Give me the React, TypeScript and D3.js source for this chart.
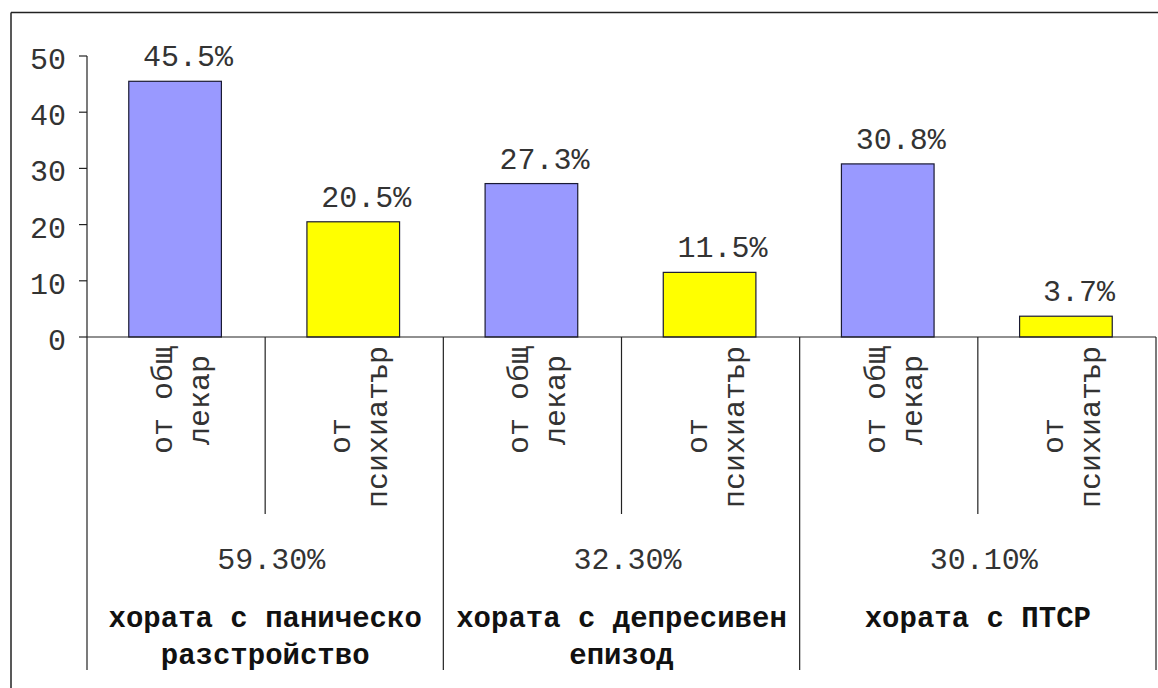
import React from "react";
import * as d3 from "d3";

const groupNames: string[][] = [
  ["хората с паническо", "разстройство"],
  ["хората с депресивен", "епизод"],
  ["хората с ПТСР"],
];
const groupTotals = ["59.30%", "32.30%", "30.10%"];
const sourceLabels: string[][] = [
  ["от общ", "лекар"],
  ["от ", "психиатър"],
];
const generalPractitioner = [45.5, 27.3, 30.8];
const psychiatrist = [20.5, 11.5, 3.7];
const yTicks = [0, 10, 20, 30, 40, 50];

const W = 1158;
const H = 688;
const FONT = "'Liberation Mono', 'Courier New', monospace";
const FS = 30;
const ADV = FS * 0.6;

export default function App() {
  const cats: { g: number; s: number; v: number }[] = [];
  groupNames.forEach((_, g) => {
    cats.push({ g, s: 0, v: generalPractitioner[g] });
    cats.push({ g, s: 1, v: psychiatrist[g] });
  });
  const x = d3
    .scaleBand<number>()
    .domain(cats.map((_, i) => i))
    .range([87, 1156])
    .padding(0);
  const y = d3.scaleLinear().domain([0, 50]).range([337, 56]);
  const barW = x.bandwidth() * 0.52;
  const y0 = y(0);
  const lineColor = "#222";
  const textColor = "#333";

  return (
    <svg
      width={W}
      height={H}
      style={{ position: "absolute", left: 0, top: 0, background: "#fff" }}
    >
      <rect x={0} y={0} width={W} height={H} fill="#fff" />
      {/* outer frame */}
      <line x1={11} y1={12.5} x2={W} y2={12.5} stroke={lineColor} strokeWidth={1.5} />
      <line x1={11} y1={12.5} x2={11} y2={H} stroke={lineColor} strokeWidth={1.5} />

      {/* y axis */}
      <line x1={87} y1={y(50)} x2={87} y2={670} stroke={lineColor} strokeWidth={1.2} />
      {yTicks.map((t) => (
        <g key={t}>
          <line x1={79} y1={y(t)} x2={87} y2={y(t)} stroke={lineColor} strokeWidth={1.2} />
          <text
            x={66}
            y={y(t) + 13}
            textAnchor="end"
            fontFamily={FONT}
            fontSize={FS}
            fill={textColor}
          >
            {t}
          </text>
        </g>
      ))}

      {/* bars */}
      {cats.map((c, i) => {
        const cx = (x(i) as number) + x.bandwidth() / 2;
        return (
          <g key={i}>
            <rect
              x={cx - barW / 2 - 1}
              y={y(c.v)}
              width={barW}
              height={y0 - y(c.v)}
              fill={c.s === 0 ? "#9999FF" : "#FFFF00"}
              stroke="#1a1a33"
              strokeWidth={1.2}
            />
            <text
              x={cx + 12}
              y={y(c.v) - 15}
              textAnchor="middle"
              fontFamily={FONT}
              fontSize={FS}
              fill={textColor}
            >
              {c.v.toFixed(1) + "%"}
            </text>
          </g>
        );
      })}

      {/* x axis */}
      <line x1={87} y1={y0} x2={1156} y2={y0} stroke={lineColor} strokeWidth={1.2} />
      {cats.map((c, i) => {
        const right = (x(i) as number) + x.bandwidth();
        const isGroupEnd = c.s === 1;
        return (
          <line
            key={"sep" + i}
            x1={right}
            y1={y0}
            x2={right}
            y2={isGroupEnd ? 670 : 514}
            stroke={lineColor}
            strokeWidth={1.2}
          />
        );
      })}

      {/* rotated category labels */}
      {cats.map((c, i) => {
        const cx = (x(i) as number) + x.bandwidth() / 2;
        const lines = sourceLabels[c.s];
        const maxLen = d3.max(lines, (l) => l.length) as number;
        const cy = y0 + 9 + (maxLen * ADV) / 2;
        return (
          <g key={"lab" + i}>
            {lines.map((l, k) => (
              <text
                key={k}
                transform={`translate(${cx - 4 + k * 37},${cy}) rotate(-90)`}
                textAnchor="middle"
                fontFamily={FONT}
                fontSize={FS}
                fill={textColor}
                style={{ whiteSpace: "pre" }}
              >
                {l}
              </text>
            ))}
          </g>
        );
      })}

      {/* group totals and names */}
      {groupNames.map((names, g) => {
        const gx0 = x(g * 2) as number;
        const gx1 = (x(g * 2 + 1) as number) + x.bandwidth();
        const gc = (gx0 + gx1) / 2;
        return (
          <g key={"grp" + g}>
            <text
              x={gc + 6}
              y={569}
              textAnchor="middle"
              fontFamily={FONT}
              fontSize={FS}
              fill={textColor}
            >
              {groupTotals[g]}
            </text>
            {names.map((n, k) => (
              <text
                key={k}
                x={gc}
                y={627 + k * 37}
                textAnchor="middle"
                fontFamily={FONT}
                fontSize={29}
                fontWeight="bold"
                fill="#111"
              >
                {n}
              </text>
            ))}
          </g>
        );
      })}
    </svg>
  );
}
